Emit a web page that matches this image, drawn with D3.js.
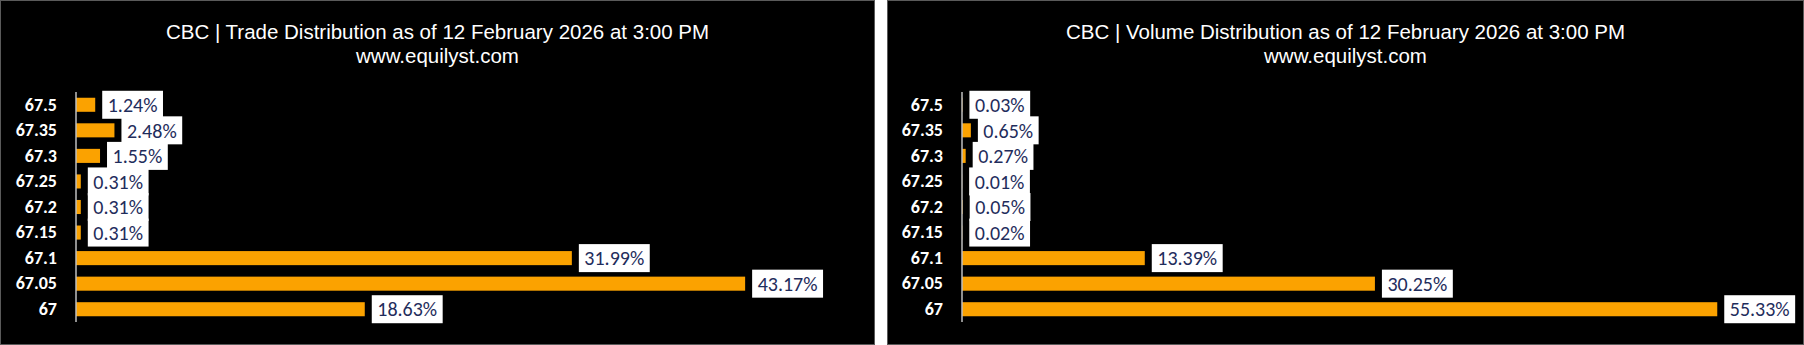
<!DOCTYPE html>
<html>
<head>
<meta charset="utf-8">
<script src="https://cdn.jsdelivr.net/npm/d3@7"></script>
<style>
  html, body { margin: 0; padding: 0; background: #ffffff; }
  svg { display: block; }
</style>
</head>
<body>
<svg id="chart" width="1804" height="345"></svg>
<script>
// ---- Data ----
const categories = ["67.5", "67.35", "67.3", "67.25", "67.2", "67.15", "67.1", "67.05", "67"];
const tradeValues = [1.24, 2.48, 1.55, 0.31, 0.31, 0.31, 31.99, 43.17, 18.63];
const volumeValues = [0.03, 0.65, 0.27, 0.01, 0.05, 0.02, 13.39, 30.25, 55.33];
const titles = [
  "CBC | Trade Distribution as of 12 February 2026 at 3:00 PM",
  "CBC | Volume Distribution as of 12 February 2026 at 3:00 PM"
];
const subtitle = "www.equilyst.com";

const svg = d3.select("#chart");

const panels = [
  { x0: 0, x1: 875, axisX: 76, xMax: 50, xEnd: 851, values: tradeValues, title: titles[0] },
  { x0: 887, x1: 1804, axisX: 962, xMax: 60, xEnd: 1781, values: volumeValues, title: titles[1] }
];

const labelFont = "Carlito, Lato, 'Open Sans', sans-serif";

panels.forEach(p => {
  const g = svg.append("g");
  g.append("rect")
    .attr("x", p.x0 + 0.5).attr("y", 0.5)
    .attr("width", p.x1 - p.x0 - 1).attr("height", 344)
    .attr("fill", "#000000").attr("stroke", "#5a5a5a").attr("stroke-width", 1);

  const cx = (p.x0 + p.x1) / 2;
  g.append("text").attr("x", cx).attr("y", 39)
    .attr("text-anchor", "middle")
    .attr("font-family", "'Liberation Sans', Arial, sans-serif")
    .attr("font-size", 20.5).attr("fill", "#ffffff")
    .text(p.title);
  g.append("text").attr("x", cx).attr("y", 63)
    .attr("text-anchor", "middle")
    .attr("font-family", "'Liberation Sans', Arial, sans-serif")
    .attr("font-size", 20.5).attr("fill", "#ffffff")
    .text(subtitle);

  const x = d3.scaleLinear().domain([0, p.xMax]).range([p.axisX, p.xEnd]);
  const y = d3.scaleBand().domain(categories).range([92, 322]).paddingInner(0.45).paddingOuter(0.225);

  // bars
  g.selectAll("rect.bar").data(categories).enter().append("rect")
    .attr("class", "bar")
    .attr("x", x(0))
    .attr("y", c => y(c))
    .attr("width", (c, i) => x(p.values[i]) - x(0))
    .attr("height", y.bandwidth())
    .attr("fill", "#FBA200");

  // y axis
  const yAxis = d3.axisLeft(y).tickSize(0).tickPadding(19);
  const ag = g.append("g").attr("transform", `translate(${p.axisX},0)`).call(yAxis);
  ag.select(".domain").attr("stroke", "#bfbfbf").attr("stroke-width", 1.5)
    .attr("d", "M0,92V322");
  ag.selectAll("text")
    .attr("fill", "#ffffff")
    .attr("font-family", labelFont)
    .attr("font-weight", "bold")
    .attr("font-size", 18);

  // data labels
  const lg = g.append("g");
  categories.forEach((c, i) => {
    const v = p.values[i];
    const bx = x(v) + 7;
    const cy = y(c) + y.bandwidth() / 2;
    const grp = lg.append("g");
    const box = grp.append("rect").attr("fill", "#ffffff");
    const t = grp.append("text")
      .attr("x", bx + 5.5).attr("y", cy)
      .attr("dy", "0.36em")
      .attr("font-family", labelFont)
      .attr("font-size", 20)
      .attr("fill", "#1F2D5C")
      .text(v.toFixed(2) + "%");
    const w = t.node().getComputedTextLength();
    box.attr("x", bx).attr("y", cy - 14).attr("width", w + 11).attr("height", 28);
  });
});
</script>
</body>
</html>
